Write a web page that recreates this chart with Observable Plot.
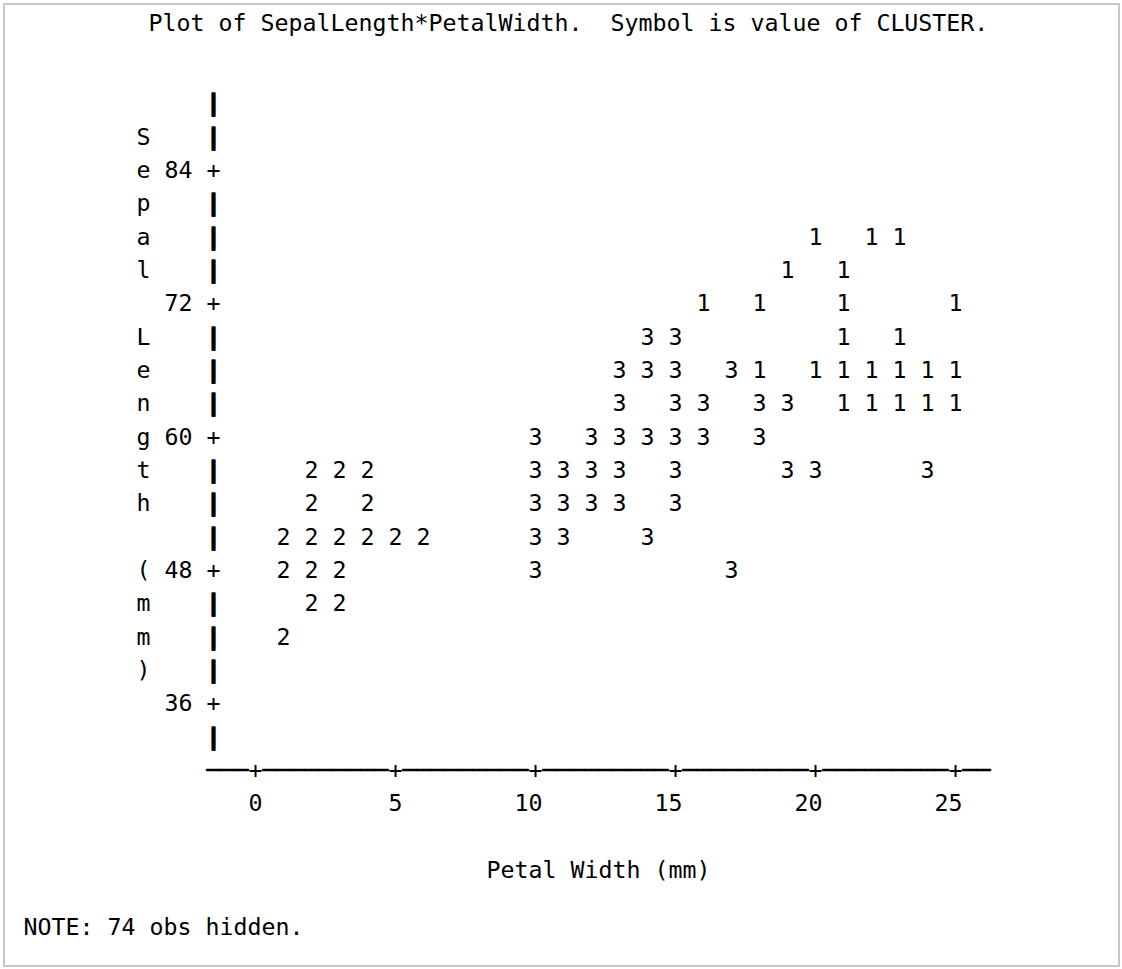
<!DOCTYPE html>
<html><head><meta charset="utf-8">
<script src="https://cdn.jsdelivr.net/npm/d3@7"></script>
<script src="https://cdn.jsdelivr.net/npm/@observablehq/plot@0.6"></script>
<style>
html,body{margin:0;padding:0;background:#fff;}
#chart{position:absolute;left:0;top:0;}
#frame{position:absolute;left:3px;top:3px;width:1117px;height:964px;border:2px solid #c8c8c8;box-sizing:border-box;pointer-events:none;}
svg text{white-space:pre;}
</style></head><body>
<div id="chart"></div><div id="frame"></div>
<script>
// ---- data ----
const petalWidth = [
  20,22,23,
  19,21,
  16,18,21,25,
  14,15,21,23,
  13,14,15,17,18,20,21,22,23,24,25,
  13,15,16,18,19,21,22,23,24,25,
  10,12,13,14,15,16,18,
  2,3,4,10,11,12,13,15,19,20,24,
  2,4,10,11,12,13,15,
  1,2,3,4,5,6,10,11,14,
  1,2,3,10,17,
  2,3,
  1
];
const sepalLength = [
  78,78,78,
  75,75,
  72,72,72,72,
  69,69,69,69,
  66,66,66,66,66,66,66,66,66,66,66,
  63,63,63,63,63,63,63,63,63,63,
  60,60,60,60,60,60,60,
  57,57,57,57,57,57,57,57,57,57,57,
  54,54,54,54,54,54,54,
  51,51,51,51,51,51,51,51,51,
  48,48,48,48,48,
  45,45,
  42
];
const cluster = [
  1,1,1,
  1,1,
  1,1,1,1,
  3,3,1,1,
  3,3,3,3,1,1,1,1,1,1,1,
  3,3,3,3,3,1,1,1,1,1,
  3,3,3,3,3,3,3,
  2,2,2,3,3,3,3,3,3,3,3,
  2,2,3,3,3,3,3,
  2,2,2,2,2,2,3,3,3,
  2,2,2,3,3,
  2,2,
  2
];
const xTicks = [0, 5, 10, 15, 20, 25];
const yTicks = [36, 48, 60, 72, 84];
const yRows = d3.range(33, 91, 3);          // printer rows of the vertical axis
const xCells = d3.range(-1.5, 26.01, 0.5);  // printer columns of the horizontal axis
const yLabel = "Sepal Length (mm)";
const xLabel = "Petal Width (mm)";
const title = "Plot of SepalLength*PetalWidth.  Symbol is value of CLUSTER.";
const note = "NOTE: 74 obs hidden.";

// ---- derived tables ----
const points = petalWidth.map((w, i) => ({x: w, y: sepalLength[i], s: String(cluster[i])}));
const yBars = yRows.filter(r => !yTicks.includes(r));
const xDashes = xCells.filter(c => !xTicks.includes(c));
const labelChars = Array.from(yLabel).map((ch, i) => ({y: 87 - 3 * i, c: ch}));
const axisRow = 30, tickLabelRow = 27, xLabelRow = 21;
const yAxisX = -1.5, yTickLabelX = -2.25, yLabelX = -4;

const W = 1122, H = 969;
const font = "'DejaVu Sans Mono', 'Liberation Mono', monospace";
const fs = 23.25;
const common = {fontSize: fs, fontFamily: font, fill: "#000"};

const chart = Plot.plot({
  width: W, height: H,
  marginTop: 0, marginBottom: 0, marginLeft: 0, marginRight: 0,
  x: {domain: [-255 / 28, (W - 255) / 28], axis: null},
  y: {domain: [84 - (H - 170) * 0.09, 84 + 170 * 0.09], axis: null},
  style: {fontFamily: font, background: "#fff", color: "#000"},
  marks: [
    // vertical axis: bars and tick pluses
    Plot.text(yBars, {x: () => yAxisX, y: d => d, text: () => "|", ...common,
      fontWeight: "bold", stroke: "#000", strokeWidth: 1.6}),
    Plot.text(yTicks, {x: () => yAxisX, y: d => d, text: () => "+", ...common}),
    Plot.text(yTicks, {x: () => yTickLabelX, y: d => d, text: d => String(d), textAnchor: "end", ...common}),
    Plot.text(labelChars, {x: () => yLabelX, y: "y", text: "c", ...common}),
    // horizontal axis
    Plot.text(xDashes, {x: d => d, y: () => axisRow, text: () => "\u2500", ...common,
      stroke: "#000", strokeWidth: 0.6}),
    Plot.text(xTicks, {x: d => d, y: () => axisRow, text: () => "+", ...common}),
    Plot.text(xTicks, {x: d => d + 0.25, y: () => tickLabelRow, text: d => String(d), textAnchor: "end", ...common}),
    Plot.text([xLabel], {x: () => (xCells[0] + xCells[xCells.length - 1]) / 2, y: () => xLabelRow, text: d => d, ...common}),
    // plot symbols
    Plot.text(points, {x: "x", y: "y", text: "s", ...common}),
    // title and note
    Plot.text([title], {frameAnchor: "top-left", dx: 148, dy: 23, textAnchor: "start", lineAnchor: "middle",
      text: d => d, ...common}),
    Plot.text([note], {frameAnchor: "bottom-left", dx: 23, dy: -42, textAnchor: "start", lineAnchor: "middle",
      text: d => d, ...common})
  ]
});
document.getElementById("chart").appendChild(chart);
</script></body></html>
